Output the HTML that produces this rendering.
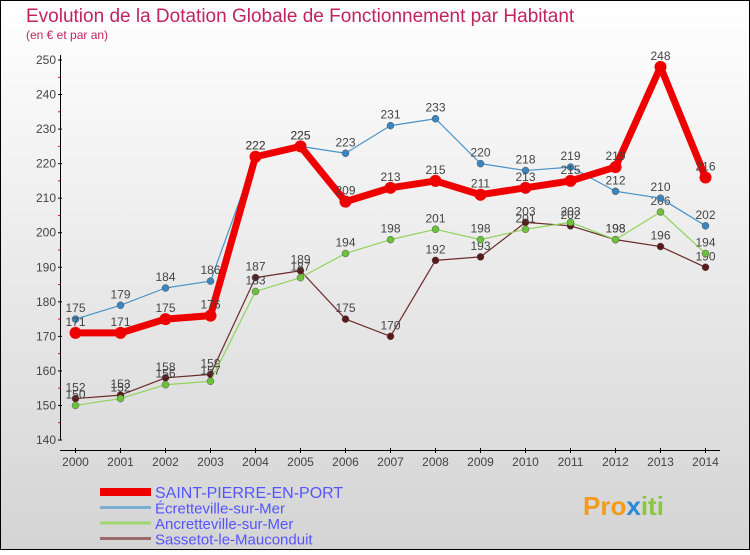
<!DOCTYPE html>
<html><head><meta charset="utf-8"><style>
body{margin:0;}
#c{width:750px;height:550px;position:relative;}
svg text{font-family:"Liberation Sans",sans-serif;}
</style></head><body>
<div id="c">
<svg id="s" width="750" height="550" xmlns="http://www.w3.org/2000/svg">
<defs><linearGradient id="bg" x1="0" y1="0" x2="0" y2="1"><stop offset="0" stop-color="#ffffff"/><stop offset="1" stop-color="#d4d4d4"/></linearGradient></defs>
<rect x="0.5" y="0.5" width="749" height="549" fill="url(#bg)" stroke="#000"/>
<text x="26" y="22" font-size="19" fill="#c0245c">Evolution de la Dotation Globale de Fonctionnement par Habitant</text>
<text x="26" y="39" font-size="12" fill="#c0245c">(en € et par an)</text>
<g id="axes"></g><g id="series"></g><g id="legend"></g>
<text x="583" y="515" font-size="26" font-weight="bold" fill="#f39c1c">Pro<tspan fill="#2a8ad4">x</tspan><tspan fill="#8cc63f">iti</tspan></text>
</svg></div>
<script>
const years=[2000,2001,2002,2003,2004,2005,2006,2007,2008,2009,2010,2011,2012,2013,2014];
const yTicks=[140,150,160,170,180,190,200,210,220,230,240,250];
const names=["SAINT-PIERRE-EN-PORT","Écretteville-sur-Mer","Ancretteville-sur-Mer","Sassetot-le-Mauconduit"];
const stPierre=[171,171,175,176,222,225,209,213,215,211,213,215,219,248,216];
const ecretteville=[175,179,184,186,222,225,223,231,233,220,218,219,212,210,202];
const ancretteville=[150,152,156,157,183,187,194,198,201,198,201,203,198,206,194];
const sassetot=[152,153,158,159,187,189,175,170,192,193,203,202,198,196,190];
const NS="http://www.w3.org/2000/svg";
function x(i){return 75.5+i*45;}
function y(v){return 60+(250-v)*380/110;}
function mk(t,a,p){const e=document.createElementNS(NS,t);for(const k in a)e.setAttribute(k,a[k]);p.appendChild(e);return e;}
const ax=document.getElementById('axes');
let e=mk('line',{x1:60.5,y1:55,x2:60.5,y2:y(140),stroke:'#000'},ax);


e=mk('line',{x1:60,y1:450.5,x2:720,y2:450.5,stroke:'#000'},ax);


yTicks.forEach(v=>{
 mk('line',{x1:58,x2:62,y1:y(v),y2:y(v),stroke:'#000'},ax);
 if(v<250)mk('line',{x1:58,x2:60,y1:y(v+5),y2:y(v+5),stroke:'#f00'},ax);
 const t=mk('text',{x:56,y:y(v)+4,'font-size':12,'text-anchor':'end',fill:'#444'},ax);t.textContent=v;
 
 
});
years.forEach((yr,i)=>{
 mk('line',{x1:x(i),x2:x(i),y1:448,y2:453,stroke:'#000'},ax);
 const t=mk('text',{x:x(i),y:466,'font-size':12,'text-anchor':'middle',fill:'#444'},ax);t.textContent=yr;
 
 
});
const sg=document.getElementById('series');
const defs=[[sassetot,'#6b2a2a','#5a1a1a',1.2,3.5,'sassetot-line'],[ancretteville,'#8fd45a','#6cc23a',1.2,3.5,'ancretteville-line'],[ecretteville,'#4a93c8','#3a86c0',1.2,3.5,'ecretteville-line'],[stPierre,'#ee0000','#ee0000',7,6,'saint-pierre-line']];
defs.forEach(([d,c,fc,w,r,n])=>{
 const g=mk('g',{},sg);
 
 
 mk('polyline',{points:d.map((v,i)=>x(i)+','+y(v)).join(' '),fill:'none',stroke:c,'stroke-width':w,'stroke-linejoin':'round'},g);
 d.forEach((v,i)=>{
  const p=mk('circle',{cx:x(i),cy:y(v),r:r,fill:fc,stroke:w>2?'none':'#555','stroke-width':0.5},g);
  
  
  const t=mk('text',{x:x(i),y:y(v)-7,'font-size':12,'text-anchor':'middle',fill:'#444'},g);t.textContent=v;
  
  
 });
});
const lg=document.getElementById('legend');
const lc=['#ee0000','#7aaed0','#9fd870','#9a6a6a'],lw=[8,3,3,3];
names.forEach((n,i)=>{
 const yy=492+i*15.5;
 const g=mk('g',{},lg);
 
 
 mk('line',{x1:100,x2:151,y1:yy,y2:yy,stroke:lc[i],'stroke-width':lw[i]},g);
 const t=mk('text',{x:155,y:yy+6,'font-size':i==0?16:15,fill:'#5555ff'},g);t.textContent=n;
});
</script>
</body></html>
